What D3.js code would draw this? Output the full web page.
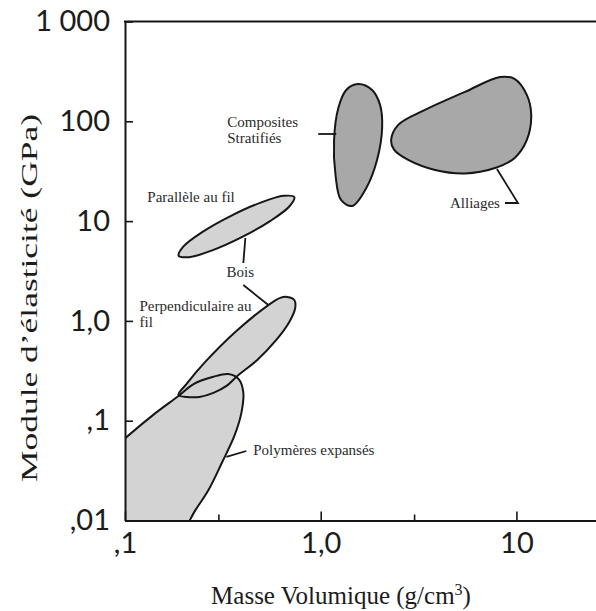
<!DOCTYPE html>
<html>
<head>
<meta charset="utf-8">
<script src="https://cdn.jsdelivr.net/npm/d3@7"></script>
<style>
  html, body { margin: 0; padding: 0; background: #fff; }
  svg { display: block; }
</style>
</head>
<body>
<svg id="chart" width="596" height="611"></svg>
<script>
// Axis ticks and their labels
const densityTicks = [0.1, 1, 10];
const densityTickLabels = [",1", "1,0", "10"];
const densityMinorTicks = [0.3, 3];
const modulusTicks = [1000, 100, 10, 1, 0.1, 0.01];
const modulusTickLabels = ["1 000", "100", "10", "1,0", ",1", ",01"];

// Material families: outline vertices as [density g/cm3, modulus GPa]
const composites = [
  [1.55, 236], [1.83, 206], [2.01, 146], [2.06, 86], [1.94, 40.9], [1.71, 21.5],
  [1.45, 14.2], [1.27, 16.3], [1.19, 29], [1.17, 65], [1.23, 136], [1.35, 206]
];
const alliages = [
  [2.29, 65], [2.49, 92], [3.41, 130], [5.46, 197], [8.24, 278], [9.82, 265],
  [11.3, 184], [11.9, 116], [11.3, 65], [9.8, 43], [7.77, 34], [5.46, 30],
  [3.84, 32.5], [2.8, 41], [2.37, 52]
];
const boisParallele = [
  [0.733, 17.4], [0.691, 14.0], [0.551, 10.0], [0.395, 6.90], [0.279, 5.09], [0.212, 4.35],
  [0.188, 4.49], [0.199, 5.57], [0.249, 7.80], [0.348, 11.3], [0.493, 15.3], [0.648, 17.9]
];
const boisPerpendiculaire = [
  [0.675, 1.74], [0.733, 1.62], [0.741, 1.35], [0.691, 0.975], [0.593, 0.644], [0.474, 0.406],
  [0.375, 0.281], [0.330, 0.223], [0.283, 0.190], [0.240, 0.173], [0.206, 0.173], [0.1875, 0.181],
  [0.206, 0.233], [0.257, 0.388], [0.366, 0.774], [0.540, 1.44], [0.621, 1.70]
];
const polymeres = [
  [0.0667, 0.0321], [0.1006, 0.0671], [0.143, 0.119], [0.1875, 0.177], [0.224, 0.233],
  [0.280, 0.274], [0.337, 0.294], [0.380, 0.262], [0.402, 0.194], [0.393, 0.119],
  [0.362, 0.0703], [0.314, 0.0386], [0.267, 0.0202], [0.229, 0.0127], [0.192, 0.00716],
  [0.135, 0.00402], [0.075, 0.00402], [0.0593, 0.0101]
];

// Labels: anchor point [density, modulus], text lines, alignment
const annotations = [
  { at: [0.333, 87.7], lines: ["Composites", "Stratifiés"], anchor: "start" },
  { at: [8.24, 13.5], lines: ["Alliages"], anchor: "end" },
  { at: [0.130, 15.5], lines: ["Parallèle au fil"], anchor: "start" },
  { at: [0.388, 2.75], lines: ["Bois"], anchor: "middle" },
  { at: [0.1186, 1.256], lines: ["Perpendiculaire au", "fil"], anchor: "start" },
  { at: [0.452, 0.0453], lines: ["Polymères expansés"], anchor: "start" }
];
// Leader lines joining labels to their regions
const leaders = [
  [[0.971, 74.6], [1.20, 74.6]],
  [[7.95, 33.3], [10.18, 15.19], [8.74, 15.19]],
  [[0.412, 6.77], [0.4024, 3.80]],
  [[0.4024, 2.289], [0.540, 1.443]],
  [[0.3296, 0.0433], [0.4168, 0.0497]]
];

const svg = d3.select("#chart");
const plotLeft = 125, plotRight = 596, plotTop = 21.5, plotBottom = 520.5;

const x = d3.scaleLog().domain([0.1, 25.5]).range([plotLeft, plotRight]);
const y = d3.scaleLog().domain([0.01, 1000]).range([plotBottom, plotTop]);

svg.append("defs").append("clipPath").attr("id", "plot-clip")
  .append("rect").attr("x", plotLeft).attr("y", plotTop)
  .attr("width", plotRight - plotLeft).attr("height", plotBottom - plotTop);

const outline = d3.line()
  .x(d => x(d[0])).y(d => y(d[1]))
  .curve(d3.curveCatmullRomClosed.alpha(0.5));
const straight = d3.line().x(d => x(d[0])).y(d => y(d[1]));

const plot = svg.append("g").attr("clip-path", "url(#plot-clip)");
const light = "#d3d3d3", dark = "#a8a8a8", ink = "#161616";

// Foams and transverse wood share light fill; both outlines stay visible
plot.append("path").attr("d", outline(polymeres)).attr("fill", light);
plot.append("path").attr("d", outline(boisPerpendiculaire)).attr("fill", light);
plot.append("path").attr("d", outline(polymeres)).attr("fill", "none")
  .attr("stroke", ink).attr("stroke-width", 2);
plot.append("path").attr("d", outline(boisPerpendiculaire)).attr("fill", "none")
  .attr("stroke", ink).attr("stroke-width", 2);

plot.append("path").attr("d", outline(boisParallele)).attr("fill", light)
  .attr("stroke", ink).attr("stroke-width", 2);
plot.append("path").attr("d", outline(composites)).attr("fill", dark)
  .attr("stroke", ink).attr("stroke-width", 2);
plot.append("path").attr("d", outline(alliages)).attr("fill", dark)
  .attr("stroke", ink).attr("stroke-width", 2);

// Leaders
leaders.forEach(pts => {
  svg.append("path").attr("d", straight(pts)).attr("fill", "none")
    .attr("stroke", ink).attr("stroke-width", 1.8);
});

// Annotation text
const notes = svg.append("g")
  .attr("font-family", "'Liberation Serif', 'Times New Roman', serif")
  .attr("font-size", 15).attr("fill", "#2a2a2a");
annotations.forEach(a => {
  const t = notes.append("text")
    .attr("x", x(a.at[0])).attr("y", y(a.at[1]))
    .attr("text-anchor", a.anchor);
  a.lines.forEach((line, i) => {
    t.append("tspan").attr("x", x(a.at[0])).attr("dy", i === 0 ? 0 : 16).text(line);
  });
});

// Axes
const tickFont = "Lato, 'Open Sans', sans-serif";
const yAxis = d3.axisLeft(y)
  .tickValues(modulusTicks)
  .tickFormat((d, i) => modulusTickLabels[i])
  .tickSizeInner(-8).tickSizeOuter(0).tickPadding(15);
const xAxis = d3.axisBottom(x)
  .tickValues(densityTicks)
  .tickFormat((d, i) => densityTickLabels[i])
  .tickSizeInner(-9).tickSizeOuter(0).tickPadding(12);
const xMinor = d3.axisBottom(x)
  .tickValues(densityMinorTicks)
  .tickFormat("")
  .tickSizeInner(-6).tickSizeOuter(0);

function styleAxis(g) {
  g.select(".domain").attr("stroke", ink).attr("stroke-width", 2);
  g.selectAll(".tick line").attr("stroke", ink).attr("stroke-width", 1.6);
  g.selectAll(".tick text").attr("fill", "#1c1c1c")
    .attr("font-family", tickFont).attr("font-size", 29);
}

svg.append("g").attr("transform", `translate(0,${plotBottom})`).call(xMinor).call(styleAxis);
svg.append("g").attr("transform", `translate(0,${plotBottom})`).call(xAxis).call(styleAxis);
svg.append("g").attr("transform", `translate(${plotLeft},0)`).call(yAxis).call(styleAxis);

// Top frame line
svg.append("line")
  .attr("x1", plotLeft - 1).attr("x2", plotRight)
  .attr("y1", plotTop).attr("y2", plotTop)
  .attr("stroke", ink).attr("stroke-width", 2);

// Axis titles
const titleFont = "'Liberation Serif', 'Times New Roman', serif";
const xTitle = svg.append("text")
  .attr("x", (plotLeft + 557) / 2).attr("y", 604)
  .attr("text-anchor", "middle")
  .attr("font-family", titleFont).attr("font-size", 25).attr("fill", "#1c1c1c");
xTitle.append("tspan").text("Masse Volumique (g/cm");
xTitle.append("tspan").attr("font-size", 16).attr("dy", -9).text("3");
xTitle.append("tspan").attr("dy", 9).text(")");

svg.append("text")
  .attr("transform", "translate(37,298) rotate(-90)")
  .attr("text-anchor", "middle")
  .attr("font-family", titleFont).attr("font-size", 24).attr("fill", "#1c1c1c")
  .attr("textLength", 368).attr("lengthAdjust", "spacingAndGlyphs")
  .text("Module d’élasticité (GPa)");
</script>
</body>
</html>
